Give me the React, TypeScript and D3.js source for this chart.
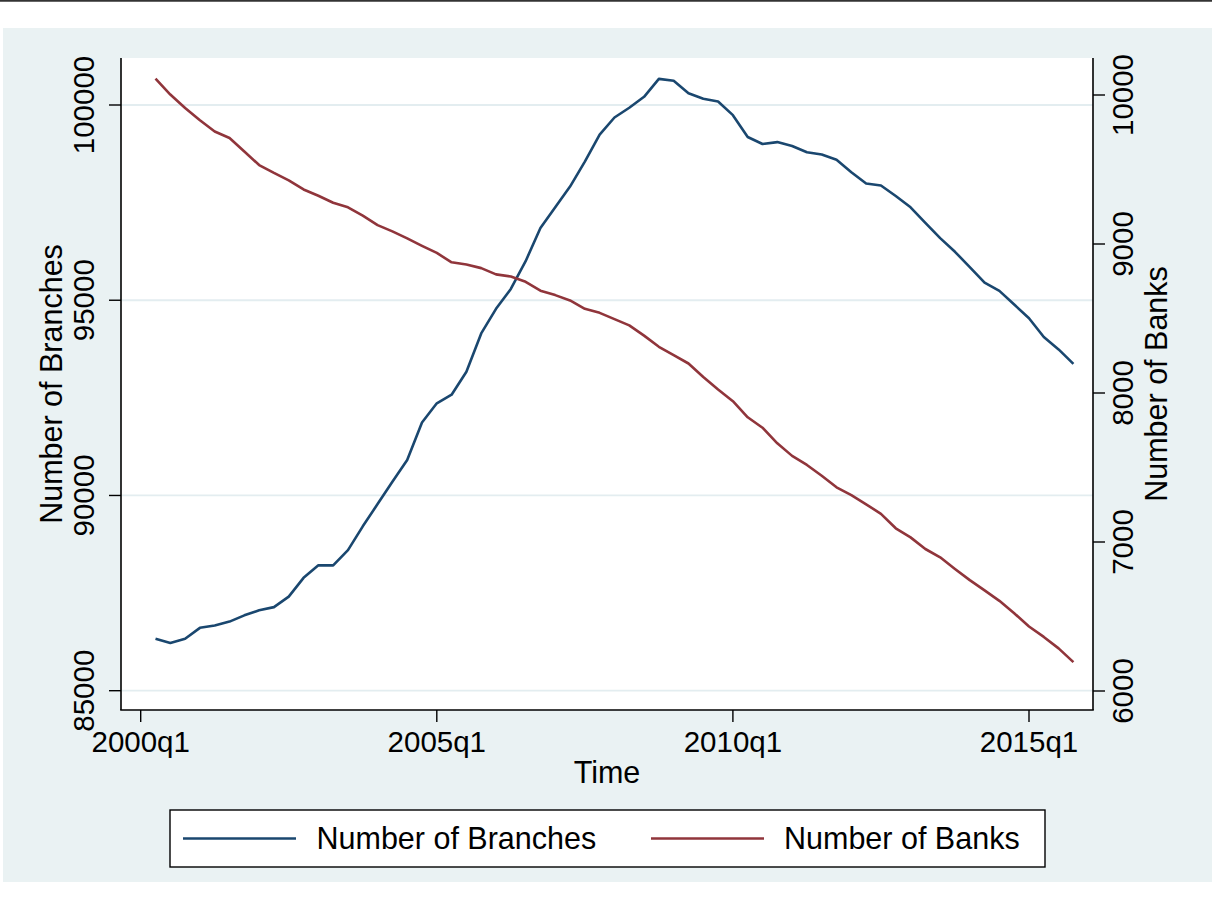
import React from "react";
import * as d3 from "d3";

// Quarter index: 0 = 2000q1; data runs 2000q2 .. 2015q4
const firstIndex = 1;
const branches = [
  86330, 86220, 86330, 86610, 86670, 86770, 86930, 87060, 87140, 87410,
  87890, 88210, 88210, 88600, 89210, 89780, 90350, 90910, 91870, 92360,
  92580, 93170, 94150, 94780, 95290, 96000, 96850, 97380, 97910, 98550,
  99240, 99680, 99930, 100210, 100670, 100620, 100300, 100160, 100090, 99740,
  99180, 99000, 99050, 98950, 98790, 98730, 98600, 98280, 97990, 97940,
  97670, 97380, 96980, 96590, 96240, 95850, 95450, 95240, 94890, 94540,
  94060, 93740, 93370,
];
const banks = [
  10110, 10003, 9913, 9830, 9755, 9711, 9621, 9530, 9477, 9427,
  9366, 9324, 9277, 9246, 9190, 9127, 9085, 9038, 8988, 8940,
  8877, 8862, 8838, 8796, 8782, 8746, 8687, 8657, 8621, 8565,
  8538, 8496, 8454, 8385, 8310, 8254, 8198, 8107, 8023, 7945,
  7837, 7767, 7662, 7578, 7517, 7445, 7367, 7314, 7253, 7189,
  7092, 7031, 6953, 6897, 6819, 6744, 6675, 6605, 6522, 6433,
  6363, 6286, 6194,
];
const xTicks = [0, 20, 40, 60];
const xTickLabels = ["2000q1", "2005q1", "2010q1", "2015q1"];
const leftTicks = [85000, 90000, 95000, 100000];
const rightTicks = [6000, 7000, 8000, 9000, 10000];
const seriesNames = ["Number of Branches", "Number of Banks"];

const W = 1212;
const H = 909;
const BLUE = "#1a476f";
const RED = "#90353b";
const BG = "#eaf2f3";
const GRID = "#e3edf0";
const FONT = "'Liberation Sans', Arial, Helvetica, sans-serif";

export default function App() {
  const plotL = 121, plotR = 1093, plotT = 58, plotB = 710;
  const x = d3.scaleLinear().domain([0, 60]).range([140.7, 1029]);
  const yL = d3.scaleLinear().domain([85000, 100000]).range([690.7, 105]);
  const yR = d3.scaleLinear().domain([6000, 10000]).range([691, 95]);

  const lineL = d3
    .line<number>()
    .x((_, i) => x(i + firstIndex))
    .y((d) => yL(d));
  const lineR = d3
    .line<number>()
    .x((_, i) => x(i + firstIndex))
    .y((d) => yR(d));

  const tickFont = 29.5;
  const titleFont = 30.5;
  const lw = 2.6;

  return (
    <svg
      width={W}
      height={H}
      style={{ position: "absolute", left: 0, top: 0, background: "#fff" }}
      fontFamily={FONT}
    >
      <rect x={0} y={0} width={W} height={H} fill="#fff" />
      <line x1={0} x2={W} y1={0.8} y2={0.8} stroke="#333" strokeWidth={1.8} />
      <rect x={3} y={28} width={W - 3} height={854} fill={BG} />
      <rect x={plotL} y={plotT} width={plotR - plotL} height={plotB - plotT} fill="#fff" />

      {/* gridlines */}
      {leftTicks.map((t) => (
        <line key={"g" + t} x1={plotL} x2={plotR} y1={yL(t)} y2={yL(t)} stroke={GRID} strokeWidth={1.8} />
      ))}

      {/* series */}
      <path d={lineL(branches) || ""} fill="none" stroke={BLUE} strokeWidth={lw} strokeLinejoin="round" />
      <path d={lineR(banks) || ""} fill="none" stroke={RED} strokeWidth={lw} strokeLinejoin="round" />

      {/* axes */}
      <line x1={plotL} x2={plotL} y1={plotT} y2={plotB} stroke="#000" strokeWidth={1.6} />
      <line x1={plotR} x2={plotR} y1={plotT} y2={plotB} stroke="#000" strokeWidth={1.6} />
      <line x1={plotL - 0.8} x2={plotR + 0.8} y1={plotB} y2={plotB} stroke="#000" strokeWidth={1.6} />

      {/* left ticks */}
      {leftTicks.map((t) => (
        <g key={"l" + t}>
          <line x1={109} x2={plotL} y1={yL(t)} y2={yL(t)} stroke="#000" strokeWidth={1.4} />
          <text
            transform={`translate(93.5,${yL(t)}) rotate(-90)`}
            textAnchor="middle"
            fontSize={tickFont}
            fill="#000"
          >
            {t}
          </text>
        </g>
      ))}

      {/* right ticks */}
      {rightTicks.map((t) => (
        <g key={"r" + t}>
          <line x1={plotR} x2={1105} y1={yR(t)} y2={yR(t)} stroke="#000" strokeWidth={1.4} />
          <text
            transform={`translate(1133,${yR(t)}) rotate(-90)`}
            textAnchor="middle"
            fontSize={tickFont}
            fill="#000"
          >
            {t}
          </text>
        </g>
      ))}

      {/* bottom ticks */}
      {xTicks.map((t, i) => (
        <g key={"x" + t}>
          <line x1={x(t)} x2={x(t)} y1={plotB} y2={722} stroke="#000" strokeWidth={1.4} />
          <text x={x(t)} y={751.5} textAnchor="middle" fontSize={tickFont} fill="#000">
            {xTickLabels[i]}
          </text>
        </g>
      ))}

      {/* axis titles */}
      <text
        transform={`translate(61.5,${(plotT + plotB) / 2}) rotate(-90)`}
        textAnchor="middle"
        fontSize={titleFont}
        fill="#000"
      >
        {seriesNames[0]}
      </text>
      <text
        transform={`translate(1166.5,${(plotT + plotB) / 2}) rotate(-90)`}
        textAnchor="middle"
        fontSize={titleFont}
        fill="#000"
      >
        {seriesNames[1]}
      </text>
      <text x={(plotL + plotR) / 2} y={783} textAnchor="middle" fontSize={titleFont} fill="#000">
        Time
      </text>

      {/* legend */}
      <rect x={170} y={810} width={875} height={57} fill="#fff" stroke="#000" strokeWidth={1.4} />
      <line x1={183} x2={296} y1={838.5} y2={838.5} stroke={BLUE} strokeWidth={lw} />
      <text x={316.5} y={849.3} fontSize={titleFont} fill="#000">
        {seriesNames[0]}
      </text>
      <line x1={651} x2={764} y1={838.5} y2={838.5} stroke={RED} strokeWidth={lw} />
      <text x={784} y={849.3} fontSize={titleFont} fill="#000">
        {seriesNames[1]}
      </text>
    </svg>
  );
}
